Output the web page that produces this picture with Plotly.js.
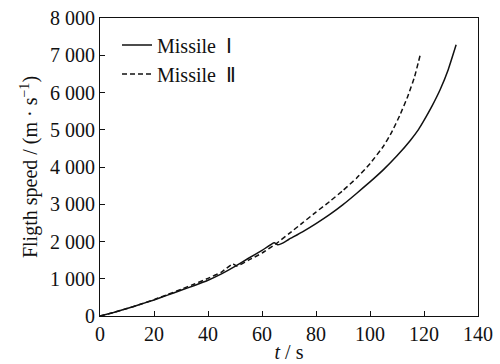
<!DOCTYPE html>
<html>
<head>
<meta charset="utf-8">
<script src="https://cdn.plot.ly/plotly-3.0.1.min.js"></script>
<style>html,body{margin:0;padding:0;background:#fff;}#chart{width:500px;height:364px;}</style>
</head>
<body>
<div id="chart"></div>
<script>
var seriesNames = ["Missile  Ⅰ", "Missile  Ⅱ"];
var t1 = [0, 5, 10, 15, 20, 25, 30, 35, 40, 45, 50, 55, 60, 64.5, 65.8, 67, 70, 75, 80, 85, 90, 95, 100, 105, 110, 115, 118, 120, 123, 126, 129, 131.9];
var v1 = [0, 95, 200, 315, 430, 560, 690, 820, 960, 1130, 1330, 1550, 1760, 1965, 1910, 1935, 2060, 2260, 2480, 2720, 2990, 3290, 3600, 3930, 4300, 4720, 5010, 5250, 5640, 6080, 6620, 7280];
var t2 = [0, 5, 10, 15, 20, 25, 30, 35, 40, 45, 49.2, 50.6, 55, 58, 60, 65, 70, 75, 80, 85, 90, 95, 100, 105, 108, 111, 114, 116.5, 118.6];
var v2 = [0, 95, 200, 315, 440, 575, 715, 860, 1010, 1180, 1400, 1340, 1500, 1610, 1690, 1930, 2210, 2500, 2790, 3070, 3370, 3700, 4090, 4560, 4930, 5380, 5900, 6420, 7010];
var xTicks = [0, 20, 40, 60, 80, 100, 120, 140];
var yTicks = [0, 1000, 2000, 3000, 4000, 5000, 6000, 7000, 8000];
var yTickText = ["0", "1 000", "2 000", "3 000", "4 000", "5 000", "6 000", "7 000", "8 000"];

function mkFont() { return {family: "Liberation Serif", size: 20, color: "#111111"}; }
var traces = [
  {x: t1, y: v1, name: seriesNames[0], mode: "lines", line: {color: "#111", width: 1.5, shape: "spline", smoothing: 0.4}},
  {x: t2, y: v2, name: seriesNames[1], mode: "lines", line: {color: "#111", width: 1.5, dash: "5px,3px", shape: "spline", smoothing: 0.4}}
];
var layout = {
  width: 500, height: 364,
  margin: {l: 100, r: 22, t: 18, b: 48},
  paper_bgcolor: "#fff", plot_bgcolor: "#fff",
  font: mkFont(),
  showlegend: true,
  legend: {x: 0.045, y: 0.975, xanchor: "left", yanchor: "top", bgcolor: "rgba(0,0,0,0)", itemwidth: 30, font: mkFont(), tracegroupgap: 0},
  xaxis: {
    range: [0, 140], tickvals: xTicks, ticks: "inside", ticklen: 5, tickwidth: 1.2, tickcolor: "#111",
    showline: true, linecolor: "#111", linewidth: 1.2, mirror: true, showgrid: false, zeroline: false,
    title: {text: "<i>t</i> / s", font: mkFont(), standoff: 0}, tickfont: mkFont()
  },
  yaxis: {
    range: [0, 8000], tickvals: yTicks, ticktext: yTickText, ticks: "inside", ticklen: 5, tickwidth: 1.2, tickcolor: "#111",
    showline: true, linecolor: "#111", linewidth: 1.2, mirror: true, showgrid: false, zeroline: false,
    title: {text: "Fligth speed / (m · s<sup>−1</sup>)", font: mkFont(), standoff: 6}, tickfont: mkFont()
  }
};
Plotly.newPlot("chart", traces, layout, {displayModeBar: false});
</script>
</body>
</html>
